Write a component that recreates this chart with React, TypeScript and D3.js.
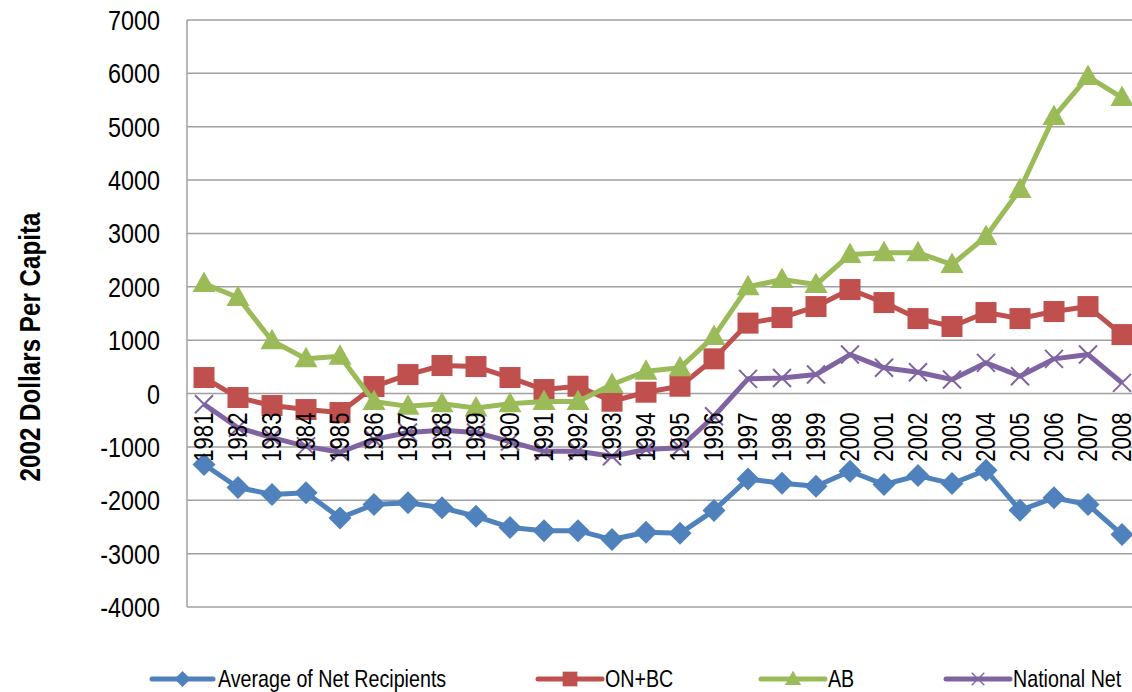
import React from "react";
import * as d3 from "d3";

const years = [1981,1982,1983,1984,1985,1986,1987,1988,1989,1990,1991,1992,1993,1994,1995,1996,1997,1998,1999,2000,2001,2002,2003,2004,2005,2006,2007,2008];
const avgNetRecipients = [-1330,-1760,-1890,-1860,-2330,-2080,-2045,-2140,-2300,-2510,-2570,-2570,-2736,-2600,-2620,-2190,-1600,-1680,-1737,-1456,-1705,-1537,-1687,-1437,-2187,-1955,-2080,-2642];
const onbc = [300,-75,-225,-300,-356,131,356,525,506,300,75,137,-144,25,137,650,1320,1424,1630,1949,1705,1405,1256,1518,1405,1537,1630,1105];
const ab = [2060,1800,990,650,700,-150,-240,-190,-270,-190,-150,-150,170,418,482,1070,2000,2136,2043,2605,2640,2640,2417,2942,3823,5190,5940,5547];
const nationalNet = [-200,-640,-825,-990,-1100,-860,-730,-690,-730,-900,-1080,-1080,-1175,-1050,-1015,-425,275,290,356,731,482,400,262,575,325,650,731,200];
const yTicks = [7000,6000,5000,4000,3000,2000,1000,0,-1000,-2000,-3000,-4000];
const seriesNames = ["Average of Net Recipients", "ON+BC", "AB", "National Net"];

const W = 1132, H = 692;
const FONT = "'Liberation Sans', Arial, sans-serif";
const NARROW = 0.82;

type MarkerKind = "diamond" | "square" | "triangle" | "x";

function Marker({ kind, color, x, y, s = 1 }: { kind: MarkerKind; color: string; x: number; y: number; s?: number }) {
  const t = `translate(${x},${y}) scale(${s})`;
  if (kind === "diamond") return <path transform={t} d="M0,-11.5L11.5,0L0,11.5L-11.5,0Z" fill={color} />;
  if (kind === "square") return <rect transform={t} x={-10.5} y={-10.5} width={21} height={21} fill={color} />;
  if (kind === "triangle") return <path transform={t} d="M0,-12L11.5,8.5L-11.5,8.5Z" fill={color} />;
  return <path transform={t} d="M-9,-9L9,9M9,-9L-9,9" stroke={color} strokeWidth={2} fill="none" />;
}

function T({ x, y, rot = 0, anchor = "start", size, bold = false, children }: { x: number; y: number; rot?: number; anchor?: string; size: number; bold?: boolean; children: React.ReactNode }) {
  return (
    <text
      transform={`translate(${x},${y}) rotate(${rot}) scale(${NARROW},1)`}
      textAnchor={anchor}
      dy="0.35em"
      fontSize={size}
      fontWeight={bold ? "bold" : "normal"}
      fill="#000"
    >
      {children}
    </text>
  );
}

export default function App() {
  const x = d3.scaleBand<number>().domain(years).range([187, 187 + 28 * 34]).padding(0);
  const cx = (yr: number) => (x(yr) as number) + x.bandwidth() / 2;
  const y = d3.scaleLinear().domain([-4000, 7000]).range([607, 20]);
  const line = d3.line<number>().x((_, i) => cx(years[i])).y((v) => y(v));

  const series = [
    { name: seriesNames[0], values: avgNetRecipients, color: "#4F81BD", kind: "diamond" as MarkerKind },
    { name: seriesNames[1], values: onbc, color: "#C0504D", kind: "square" as MarkerKind },
    { name: seriesNames[2], values: ab, color: "#9BBB59", kind: "triangle" as MarkerKind },
    { name: seriesNames[3], values: nationalNet, color: "#8064A2", kind: "x" as MarkerKind },
  ];

  const legendPos = [
    { x1: 152, x2: 213, tx: 218 },
    { x1: 538, x2: 602, tx: 605 },
    { x1: 761, x2: 825, tx: 828 },
    { x1: 946, x2: 1010, tx: 1013 },
  ];

  return (
    <svg width={W} height={H} style={{ position: "absolute", left: 0, top: 0, background: "#fff" }} fontFamily={FONT}>
      <rect x={0} y={0} width={W} height={H} fill="#fff" />
      {yTicks.map((t) => (
        <line key={t} x1={187} x2={W} y1={y(t)} y2={y(t)} stroke="#A0A0A0" strokeWidth={1.5} />
      ))}
      <line x1={187} x2={187} y1={y(7000)} y2={y(-4000)} stroke="#A0A0A0" strokeWidth={1.5} />
      {yTicks.map((t) => (
        <T key={t} x={160} y={y(t)} anchor="end" size={28.5}>{t}</T>
      ))}
      <T x={30} y={347} rot={-90} anchor="middle" size={29.5} bold>2002 Dollars Per Capita</T>
      {series.map((s) => (
        <g key={s.name}>
          <path d={line(s.values) || ""} fill="none" stroke={s.color} strokeWidth={5} strokeLinejoin="round" />
          {s.values.map((v, i) => (
            <Marker key={i} kind={s.kind} color={s.color} x={cx(years[i])} y={y(v)} />
          ))}
        </g>
      ))}
      {years.map((yr) => (
        <T key={yr} x={cx(yr)} y={y(0) + 19} rot={-90} anchor="end" size={27}>{yr}</T>
      ))}
      {series.map((s, i) => {
        const p = legendPos[i];
        return (
          <g key={s.name}>
            <line x1={p.x1} x2={p.x2} y1={679} y2={679} stroke={s.color} strokeWidth={5} strokeLinecap="round" />
            <Marker kind={s.kind} color={s.color} x={(p.x1 + p.x2) / 2} y={679} s={0.7} />
            <T x={p.tx} y={679} size={24}>{s.name}</T>
          </g>
        );
      })}
    </svg>
  );
}
